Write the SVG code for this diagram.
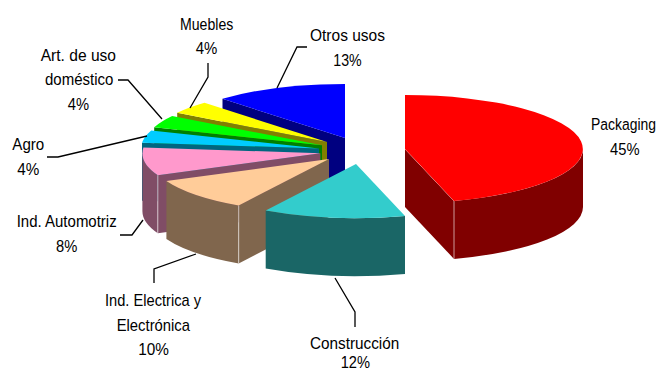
<svg xmlns="http://www.w3.org/2000/svg" width="660" height="372" viewBox="0 0 660 372">
<style>
text{font-family:"Liberation Sans",Arial,sans-serif;font-size:17px;fill:#000}
.hl{stroke:#ffffff;stroke-opacity:0.6;stroke-width:1;fill:none}
.ld{stroke:#000;stroke-width:1.3;fill:none}
</style>
<rect width="660" height="372" fill="#fff"/>
<g id="otros">
<polygon points="222.5,98.8 345,138 345,196 222.5,156.8" fill="#000080"/>
<path d="M345,138 L222.5,98.8 A178 54 0 0 1 345,84 Z" fill="#0000FF"/>
<text x="310" y="41" textLength="75" lengthAdjust="spacingAndGlyphs">Otros usos</text>
<text x="333.3" y="65.5" textLength="28.4" lengthAdjust="spacingAndGlyphs">13%</text>
</g>
<g id="muebles">
<polygon points="177.2,112.8 327,142 327,200 177.2,170.8" fill="#808000"/>
<path d="M327,142 L177.2,112.8 A178 54 0 0 1 204.5,102.8 Z" fill="#FFFF00"/>
<text x="180" y="29.5" textLength="53.3" lengthAdjust="spacingAndGlyphs">Muebles</text>
<text x="195.7" y="54" textLength="21.6" lengthAdjust="spacingAndGlyphs">4%</text>
</g>
<g id="art">
<polygon points="154.2,127.3 322,145.3 322,203.3 154.2,185.3" fill="#008000"/>
<path d="M322,145.3 L154.2,127.3 A178 54 0 0 1 172.2,116.1 Z" fill="#00FF00"/>
<text x="40.7" y="61" textLength="75.3" lengthAdjust="spacingAndGlyphs">Art. de uso</text>
<text x="45" y="85" textLength="68.3" lengthAdjust="spacingAndGlyphs">doméstico</text>
<text x="67.7" y="110" textLength="21.3" lengthAdjust="spacingAndGlyphs">4%</text>
</g>
<g id="agro">
<polygon points="142,142.8 319,148.4 319,206.4 142,200.8" fill="#006680"/>
<path d="M319,148.4 L142,142.8 A178 54 0 0 1 151.2,130.4 Z" fill="#00CCFF"/>
<text x="12.3" y="150" textLength="32" lengthAdjust="spacingAndGlyphs">Agro</text>
<text x="17.3" y="175" textLength="22" lengthAdjust="spacingAndGlyphs">4%</text>
</g>
<g id="automotriz">
<path d="M157.8,175.2 A178 54 0 0 1 142.4,153.2 L142.4,211.2 A178 54 0 0 0 157.8,233.2 Z" fill="#804D66"/>
<polygon points="320.4,153.2 157.8,175.2 157.8,233.2 320.4,211.2" fill="#804D66"/>
<line class="hl" x1="157.8" y1="175.2" x2="157.8" y2="233.2"/>
<path d="M320.4,153.2 L157.8,175.2 A178 54 0 0 1 143.4,147.6 Z" fill="#FF99CC"/>
<text x="16.7" y="226.7" textLength="100" lengthAdjust="spacingAndGlyphs">Ind. Automotriz</text>
<text x="56" y="251.7" textLength="21.3" lengthAdjust="spacingAndGlyphs">8%</text>
</g>
<g id="electrica">
<path d="M238.7,205.5 A178 54 0 0 1 166.4,181 L166.4,239 A178 54 0 0 0 238.7,263.5 Z" fill="#80664D"/>
<polygon points="329,159 238.7,205.5 238.7,263.5 329,217" fill="#80664D"/>
<line class="hl" x1="238.7" y1="205.5" x2="238.7" y2="263.5"/>
<path d="M329,159 L238.7,205.5 A178 54 0 0 1 166.4,181 Z" fill="#FFCC99"/>
<text x="105" y="306" textLength="96" lengthAdjust="spacingAndGlyphs">Ind. Electrica y</text>
<text x="116.7" y="330.5" textLength="73.3" lengthAdjust="spacingAndGlyphs">Electrónica</text>
<text x="138.3" y="355" textLength="30.7" lengthAdjust="spacingAndGlyphs">10%</text>
</g>
<g id="packaging">
<path d="M583,149 A178 54 0 0 1 454,200.9 L454,258.9 A178 54 0 0 0 583,207 Z" fill="#800000"/>
<polygon points="405,149 454,200.9 454,258.9 405,207" fill="#800000"/>
<polyline class="hl" points="405,149 454,200.9 454,258.9"/>
<path d="M405,149 L405,95 A178 54 0 0 1 454,200.9 Z" fill="#FF0000"/>
<text transform="translate(591 129.5) scale(0.82 1)">Packaging</text>
<text x="610" y="154.5" textLength="29.5" lengthAdjust="spacingAndGlyphs">45%</text>
</g>
<g id="construccion">
<path d="M405,215.9 A178 54 0 0 1 265.7,210.5 L265.7,268.5 A178 54 0 0 0 405,273.9 Z" fill="#1A6666"/>
<path d="M356,164 L405,215.9 A178 54 0 0 1 265.7,210.5 Z" fill="#33CCCC"/>
<text x="310" y="348.5" textLength="89.3" lengthAdjust="spacingAndGlyphs">Construcción</text>
<text x="340.7" y="367.5" textLength="29.3" lengthAdjust="spacingAndGlyphs">12%</text>
</g>
<g id="connectors">
<polyline class="ld" points="307,47 297,47 277,88"/>
<polyline class="ld" points="208,63 208,77 190,108"/>
<polyline class="ld" points="118,80 128,80 162,119"/>
<polyline class="ld" points="47,157 58,157 147,136"/>
<polyline class="ld" points="120,235 132,235 143,220"/>
<polyline class="ld" points="154,283 154,269 196,254"/>
<polyline class="ld" points="335,278 355,312 355,327"/>
</g>
</svg>
